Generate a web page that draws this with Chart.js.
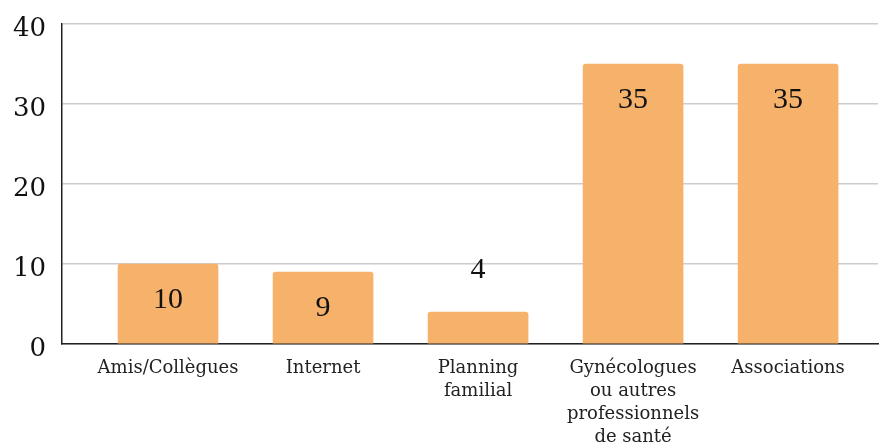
<!DOCTYPE html>
<html><head><meta charset="utf-8">
<script src="https://cdn.jsdelivr.net/npm/chart.js@4/dist/chart.umd.min.js"></script>
<style>html,body{margin:0;padding:0;background:#fff}#w{width:879px;height:447px}</style>
</head><body><div id="w"><canvas id="c"></canvas></div>
<script>
const categories = [["Amis/Collègues"], ["Internet"], ["Planning", "familial"], ["Gynécologues", "ou autres", "professionnels", "de santé"], ["Associations"]];
const values = [10, 9, 4, 35, 35];
const yTicks = [0, 10, 20, 30, 40];

const serif = "'Liberation Serif', serif";
const dserif = "'DejaVu Serif', serif";

const labelPlugin = {
  id: 'vlabels',
  afterDatasetsDraw(chart) {
    const ctx = chart.ctx;
    const meta = chart.getDatasetMeta(0);
    ctx.save();
    ctx.font = "30px " + serif;
    ctx.fillStyle = "#111";
    ctx.textAlign = "center";
    ctx.textBaseline = "middle";
    meta.data.forEach((bar, i) => {
      const h = bar.base - bar.y;
      const yy = h > 60 ? bar.y + 36 : bar.y - 42;
      ctx.fillText(String(values[i]), bar.x, yy);
    });
    ctx.restore();
  }
};

new Chart(document.getElementById('c'), {
  type: 'bar',
  data: {
    datasets: [{
      data: values.map((v, i) => ({x: i, y: v})),
      backgroundColor: '#F6B26B',
      barThickness: 100,
      borderRadius: {topLeft: 3, topRight: 3, bottomLeft: 0, bottomRight: 0},
      borderSkipped: 'bottom'
    }]
  },
  options: {
    responsive: true,
    maintainAspectRatio: false,
    animation: false,
    layout: {padding: {top: 24, right: 1, left: 0, bottom: 0}},
    plugins: {legend: {display: false}, tooltip: {enabled: false}},
    scales: {
      x: {
        type: 'linear',
        offset: false,
        min: -0.684,
        max: 4.58,
        grid: {display: false, drawTicks: false, offset: false},
        border: {display: true, color: '#222', width: 1.5},
        afterBuildTicks(scale) { scale.ticks = categories.map((c, i) => ({value: i})); },
        afterFit(scale) { scale.height = 103; scale.paddingLeft = 0; scale.paddingRight = 0; },
        ticks: {
          autoSkip: false,
          maxRotation: 0,
          padding: 13,
          color: '#222',
          font: {family: dserif, size: 18, lineHeight: 1.28},
          callback(v) { return categories[v] || ''; }
        }
      },
      y: {
        min: 0,
        max: 40,
        afterBuildTicks(scale) { scale.ticks = yTicks.map(v => ({value: v})); },
        afterFit(scale) { scale.width = 62; scale.paddingTop = 0; scale.paddingBottom = 0; },
        grid: {color: '#cccccc', lineWidth: 1.5, drawTicks: false},
        border: {display: true, color: '#222', width: 1.5},
        ticks: {
          padding: 16,
          labelOffset: 5,
          color: '#111',
          font: {family: dserif, size: 26},
          callback(v) { return String(v); }
        }
      }
    }
  },
  plugins: [labelPlugin]
});
</script>
</body></html>
